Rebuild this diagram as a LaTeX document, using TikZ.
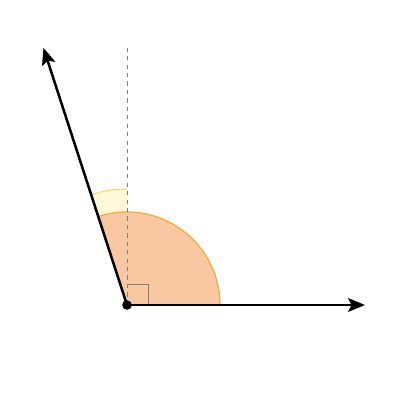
\documentclass[tikz,border=0pt]{standalone}
\usetikzlibrary{arrows.meta, calc}
\definecolor{sectorfill}{RGB}{250,200,160}
\definecolor{sectoredge}{RGB}{240,170,70}
\definecolor{extrafill}{RGB}{255,248,215}
\definecolor{extraedge}{RGB}{245,215,130}
\tikzset{
    ray/.style={line width=1.8pt, -{Stealth[length=4.2mm, width=3.4mm, inset=0.8mm]}},
    guide/.style={gray, dashed, line width=0.7pt},
    rightmark/.style={gray, line width=0.7pt}
}
\begin{document}
\begin{tikzpicture}
    \def \ang {108}
    \def \R {2.325}
    \def \Rout {2.9}
    \def \sq {0.525}
    \useasboundingbox (0,0) rectangle (10,10);
    \coordinate (O) at (3.175, 2.375);
    \coordinate (A) at (9.125, 2.375);
    \coordinate (B) at ($(O)+(\ang:6.76)$);
    \coordinate (T) at (3.175, 8.8);
    % angle between the dashed normal and the ray
    \fill[extrafill] (O) -- ($(O)+(90:\Rout)$) arc (90:\ang:\Rout) -- cycle;
    \draw[extraedge, line width=0.8pt] ($(O)+(90:\Rout)$) arc (90:\ang:\Rout);
    % the angle itself
    \fill[sectorfill] (O) -- ($(O)+(0:\R)$) arc (0:\ang:\R) -- cycle;
    \draw[sectoredge, line width=0.9pt] ($(O)+(0:\R)$) arc (0:\ang:\R);
    \draw[guide] (O) -- (T);
    \draw[rightmark] ($(O)+(\sq,0)$) -- ++(0,\sq) -- ++(-\sq,0);
    \draw[ray] (O) -- (A);
    \draw[ray] (O) -- (B);
    \fill (O) circle (0.12);
\end{tikzpicture}
\end{document}
